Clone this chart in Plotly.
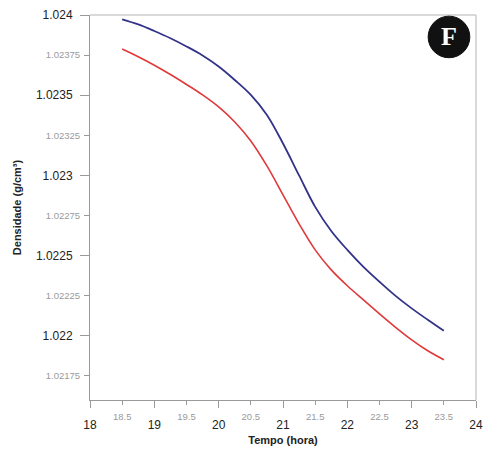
import plotly.graph_objects as go

# Leituras da curva (tempo em horas, densidade em g/cm3)
tempo = [18.5, 18.75, 19, 19.25, 19.5, 19.75, 20, 20.25, 20.5, 20.75, 21,
         21.25, 21.5, 21.75, 22, 22.25, 22.5, 22.75, 23, 23.25, 23.5]
dens_azul = [1.023973, 1.023941, 1.023900, 1.023855, 1.023804, 1.023748,
             1.023679, 1.023595, 1.023502, 1.023377, 1.023199, 1.023000,
             1.022804, 1.022654, 1.022536, 1.022430, 1.022337, 1.022249,
             1.022171, 1.022100, 1.022031]
dens_vermelha = [1.023788, 1.023740, 1.023687, 1.023629, 1.023567, 1.023502,
                 1.023427, 1.023333, 1.023215, 1.023059, 1.022879, 1.022698,
                 1.022536, 1.022411, 1.022312, 1.022224, 1.022137, 1.022053,
                 1.021975, 1.021907, 1.021851]

x_major = [18, 19, 20, 21, 22, 23, 24]
x_major_txt = ["18", "19", "20", "21", "22", "23", "24"]
x_minor = [18.5, 19.5, 20.5, 21.5, 22.5, 23.5]
x_minor_txt = ["18.5", "19.5", "20.5", "21.5", "22.5", "23.5"]

y_major = [1.022, 1.0225, 1.023, 1.0235, 1.024]
y_major_txt = ["1.022", "1.0225", "1.023", "1.0235", "1.024"]
y_minor = [1.02175, 1.02225, 1.02275, 1.02325, 1.02375]
y_minor_txt = ["1.02175", "1.02225", "1.02275", "1.02325", "1.02375"]

X_RANGE = [18, 24]
Y_RANGE = [1.0216, 1.024]
AXIS_GREY = "#9a9a9a"
FONT = "Arial, Liberation Sans, sans-serif"

fig = go.Figure()

fig.add_trace(go.Scatter(
    x=tempo, y=dens_azul, mode="lines",
    line=dict(color="#33338a", width=1.8, shape="spline", smoothing=1.0),
    showlegend=False
))
fig.add_trace(go.Scatter(
    x=tempo, y=dens_vermelha, mode="lines",
    line=dict(color="#e0393a", width=1.6, shape="spline", smoothing=1.0),
    showlegend=False
))
# invisible trace so the minor-label axes render
fig.add_trace(go.Scatter(
    x=X_RANGE, y=Y_RANGE, xaxis="x2", yaxis="y2", mode="lines",
    line=dict(width=0), hoverinfo="skip", showlegend=False
))

fig.update_layout(
    width=484, height=451,
    margin=dict(l=90, r=8, t=15, b=51),
    paper_bgcolor="white", plot_bgcolor="white",
    font=dict(family=FONT),
    xaxis=dict(
        range=X_RANGE, tickvals=x_major, ticktext=x_major_txt,
        ticks="outside", ticklen=7, tickcolor=AXIS_GREY, tickwidth=1,
        ticklabelstandoff=7, automargin=False,
        showline=True, linecolor=AXIS_GREY, linewidth=1,
        showgrid=False, zeroline=False,
        tickfont=dict(size=12, color="#222222"),
        title=dict(text="<b>Tempo (hora)</b>", font=dict(size=11, color="#222222"),
                   standoff=4),
    ),
    yaxis=dict(
        range=Y_RANGE, tickvals=y_major, ticktext=y_major_txt,
        ticks="outside", ticklen=9, tickcolor=AXIS_GREY, tickwidth=1,
        ticklabelstandoff=5, automargin=False,
        showline=True, linecolor=AXIS_GREY, linewidth=1,
        showgrid=False, zeroline=False,
        tickfont=dict(size=12, color="#222222"),
        title=dict(text="<b>Densidade (g/cm³)</b>", font=dict(size=11, color="#222222"),
                   standoff=12),
    ),
    xaxis2=dict(
        range=X_RANGE, overlaying="x", side="bottom", anchor="y2",
        tickvals=x_minor, ticktext=x_minor_txt,
        ticks="outside", ticklen=4, tickcolor=AXIS_GREY,
        ticklabelstandoff=4, automargin=False,
        showline=False, showgrid=False, zeroline=False,
        tickfont=dict(size=9.5, color="#9a9a9a"),
    ),
    yaxis2=dict(
        range=Y_RANGE, overlaying="y", side="left", anchor="x2",
        tickvals=y_minor, ticktext=y_minor_txt,
        ticks="outside", ticklen=5, tickcolor=AXIS_GREY,
        ticklabelstandoff=2, automargin=False,
        showline=False, showgrid=False, zeroline=False,
        tickfont=dict(size=9.5, color="#9a9a9a"),
    ),
    shapes=[
        dict(type="line", xref="paper", yref="paper", x0=0, x1=1, y0=1, y1=1,
             line=dict(color="#cccccc", width=1.5)),
        dict(type="line", xref="paper", yref="paper", x0=1, x1=1, y0=0, y1=1,
             line=dict(color="#cccccc", width=1.5)),
        dict(type="circle", xref="paper", yref="paper",
             x0=0.930 - 0.054, x1=0.930 + 0.054, y0=0.943 - 0.054, y1=0.943 + 0.054,
             fillcolor="#111111", line=dict(color="#111111", width=1)),
    ],
    annotations=[
        dict(text="<b>F</b>", xref="paper", yref="paper", x=0.930, y=0.943,
             showarrow=False, xanchor="center", yanchor="middle",
             font=dict(family="Liberation Serif, DejaVu Serif, serif", size=26, color="white")),
    ],
)

# page has an 8px default body margin; drop it so the figure sits at 0,0
fig.write_html("out.html", config={"displayModeBar": False},
               post_script="document.body.style.margin='0';")
